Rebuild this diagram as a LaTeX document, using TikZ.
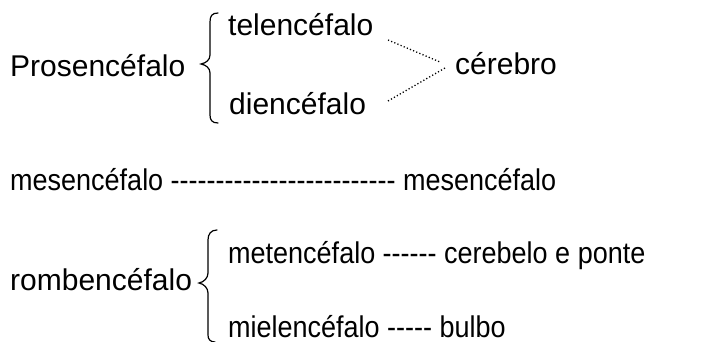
\documentclass[tikz,border=0pt]{standalone}
\usepackage{fontspec}
\setmainfont{Liberation Sans}[Ligatures=TeXOff]
\newfontfamily\narrowsans{Liberation Sans}[Ligatures=TeXOff,FakeStretch=0.9]
\begin{document}
\begin{tikzpicture}[x=1pt,y=-1pt,
  lbl/.style={anchor=base west,inner sep=0pt,font=\fontsize{30}{36}\selectfont},
  nlbl/.style={anchor=base west,inner sep=0pt,font=\narrowsans\fontsize{30}{36}\selectfont},
  bracepath/.style={line width=1.2pt,line cap=round},
  dotline/.style={line width=1.3pt,dash pattern=on 1.2pt off 2.2pt}]
\useasboundingbox (0,0) rectangle (710,342);
% row 1
\node[lbl] (pros) at (10,77) {Prosencéfalo};
\node[lbl] (tel) at (228,36) {telencéfalo};
\node[lbl] (die) at (229,115) {diencéfalo};
\node[lbl] (cer) at (455,75) {cérebro};
\draw[bracepath] (218,13) .. controls (212,13) and (210,16) .. (210,22)
  -- (210,55) .. controls (210,60) and (206,63) .. (201,64)
  .. controls (206,65) and (210,68) .. (210,73)
  -- (210,115) .. controls (210,120) and (212,123) .. (218,123);
\coordinate (t1) at (388,40);
\coordinate (t2) at (440,62);
\coordinate (d1) at (388,101);
\coordinate (d2) at (445,68);
\draw[dotline] (t1) -- (t2);
\draw[dotline] (d1) -- (d2);
% row 2
\node[nlbl] (mes) at (10,190) {mesencéfalo ------------------------- mesencéfalo};
% row 3
\node[lbl] (rom) at (10,290) {rombencéfalo};
\node[nlbl] (met) at (228,263) {metencéfalo ------ cerebelo e ponte};
\node[nlbl] (mie) at (228,337) {mielencéfalo ----- bulbo};
\draw[bracepath] (217,230) .. controls (211,230) and (208,234) .. (208,240)
  -- (208,273) .. controls (208,278) and (204,282) .. (199,283)
  .. controls (204,284) and (208,288) .. (208,293)
  -- (208,335) .. controls (208,339) and (210,342) .. (215,342);
\end{tikzpicture}
\end{document}
